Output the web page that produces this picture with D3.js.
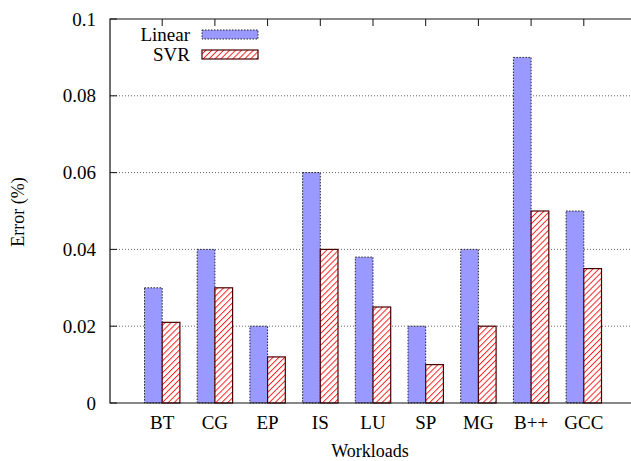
<!DOCTYPE html>
<html>
<head>
<meta charset="utf-8">
<script src="https://cdn.jsdelivr.net/npm/d3@7"></script>
<style>
  body { margin: 0; background: #fff; }
  svg text { font-family: "Times New Roman", Times, "Liberation Serif", "Nimbus Roman", "DejaVu Serif", serif; }
</style>
</head>
<body>
<div id="chart"></div>
<script>
const workloads = ['BT', 'CG', 'EP', 'IS', 'LU', 'SP', 'MG', 'B++', 'GCC'];
const linearErr = [0.03, 0.04, 0.02, 0.06, 0.038, 0.02, 0.04, 0.09, 0.05];
const svrErr = [0.021, 0.03, 0.012, 0.04, 0.025, 0.01, 0.02, 0.05, 0.035];
const yTicks = [0, 0.02, 0.04, 0.06, 0.08, 0.1];
const seriesNames = ['Linear', 'SVR'];

const width = 631, height = 461;
const plotLeft = 110, plotTop = 19, plotBottom = 403;
const step = 52.7;
const barW = 17.7;

const svg = d3.select('#chart').append('svg')
    .attr('width', width)
    .attr('height', height);

const defs = svg.append('defs');
const pat = defs.append('pattern')
    .attr('id', 'hatch')
    .attr('patternUnits', 'userSpaceOnUse')
    .attr('width', 4.2)
    .attr('height', 4.2)
    .attr('patternTransform', 'rotate(45)');
pat.append('rect').attr('width', 4.2).attr('height', 4.2).attr('fill', '#fff');
pat.append('line')
    .attr('x1', 0).attr('y1', 0).attr('x2', 0).attr('y2', 4.2)
    .attr('stroke', '#ff1a1a')
    .attr('stroke-width', 1.9);

// x position of category i (1-based), plot spans 0..10
const x = d3.scaleLinear().domain([0, 10]).range([plotLeft - 0.5, plotLeft - 0.5 + 10 * step]);
const y = d3.scaleLinear().domain([0, 0.1]).range([plotBottom, plotTop]);

// grid lines
svg.append('g').selectAll('line')
    .data(yTicks.filter(d => d > 0 && d < 0.1))
    .join('line')
    .attr('x1', plotLeft).attr('x2', width)
    .attr('y1', d => y(d)).attr('y2', d => y(d))
    .attr('stroke', '#666')
    .attr('stroke-width', 1)
    .attr('stroke-dasharray', '1,2');

// bars
const bars = svg.append('g');
bars.selectAll('rect.lin')
    .data(linearErr)
    .join('rect')
    .attr('class', 'lin')
    .attr('x', (d, i) => x(i + 1) - barW)
    .attr('y', d => y(d))
    .attr('width', barW)
    .attr('height', d => plotBottom - y(d))
    .attr('fill', '#9999ff')
    .attr('stroke', '#222')
    .attr('stroke-width', 1)
    .attr('stroke-dasharray', '1.5,1.5');

bars.selectAll('rect.svr')
    .data(svrErr)
    .join('rect')
    .attr('class', 'svr')
    .attr('x', (d, i) => x(i + 1))
    .attr('y', d => y(d))
    .attr('width', barW)
    .attr('height', d => plotBottom - y(d))
    .attr('fill', 'url(#hatch)')
    .attr('stroke', '#4a0000')
    .attr('stroke-width', 1.2);

// frame: left, top, bottom
svg.append('path')
    .attr('d', `M${width},${plotTop}H${plotLeft}V${plotBottom}H${width}`)
    .attr('fill', 'none')
    .attr('stroke', '#111')
    .attr('stroke-width', 1.2);

// y ticks and labels
const yg = svg.append('g');
yg.selectAll('line')
    .data(yTicks)
    .join('line')
    .attr('x1', plotLeft).attr('x2', plotLeft + 7)
    .attr('y1', d => y(d)).attr('y2', d => y(d))
    .attr('stroke', '#111');
yg.selectAll('text')
    .data(yTicks)
    .join('text')
    .attr('x', 96)
    .attr('y', d => y(d))
    .attr('dy', '0.35em')
    .attr('text-anchor', 'end')
    .attr('font-size', 19)
    .text(d => d3.format('~g')(d));

// x ticks (top mirror) and labels
const xg = svg.append('g');
xg.selectAll('line')
    .data(workloads)
    .join('line')
    .attr('x1', (d, i) => x(i + 1)).attr('x2', (d, i) => x(i + 1))
    .attr('y1', plotTop).attr('y2', plotTop + 7)
    .attr('stroke', '#111');
xg.selectAll('text')
    .data(workloads)
    .join('text')
    .attr('x', (d, i) => x(i + 1))
    .attr('y', 429)
    .attr('text-anchor', 'middle')
    .attr('font-size', 19)
    .text(d => d);

// axis titles
svg.append('text')
    .attr('x', 370)
    .attr('y', 457)
    .attr('text-anchor', 'middle')
    .attr('font-size', 18)
    .text('Workloads');
svg.append('text')
    .attr('transform', 'translate(24,212) rotate(-90)')
    .attr('text-anchor', 'middle')
    .attr('font-size', 18)
    .text('Error (%)');

// legend
const legend = svg.append('g');
seriesNames.forEach((name, i) => {
    const ly = 30 + i * 20;
    legend.append('text')
        .attr('x', 190)
        .attr('y', ly + 4.5)
        .attr('dy', '0.35em')
        .attr('text-anchor', 'end')
        .attr('font-size', 19)
        .text(name);
    const r = legend.append('rect')
        .attr('x', 202)
        .attr('y', ly)
        .attr('width', 56)
        .attr('height', 9);
    if (i === 0) {
        r.attr('fill', '#9999ff').attr('stroke', '#222').attr('stroke-dasharray', '1.5,1.5');
    } else {
        r.attr('fill', 'url(#hatch)').attr('stroke', '#4a0000').attr('stroke-width', 1.2);
    }
});
</script>
</body>
</html>
